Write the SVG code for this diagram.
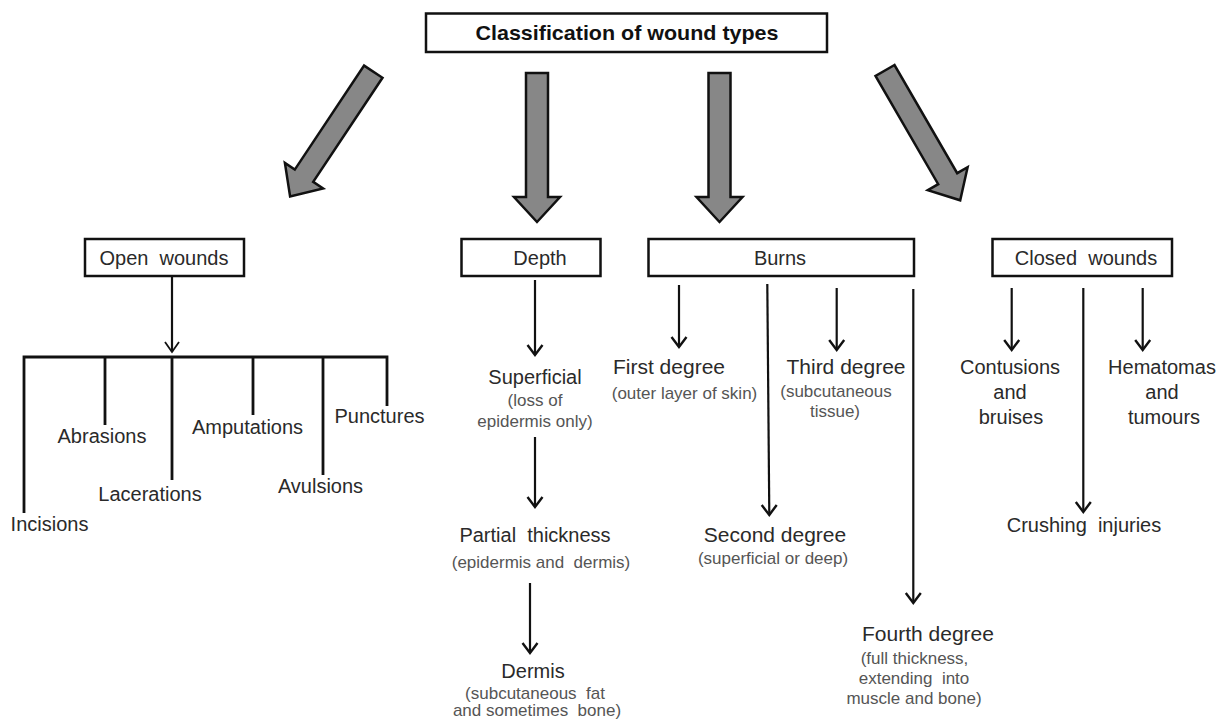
<svg xmlns="http://www.w3.org/2000/svg" width="1228" height="722" viewBox="0 0 1228 722">
<style>
.box{fill:#fff;stroke:#111;stroke-width:2.5}
.big{fill:#878787;stroke:#111;stroke-width:2.5;stroke-linejoin:miter}
.t{font-family:"Liberation Sans",Arial,sans-serif;font-size:20px;fill:#2a2a2a;text-anchor:middle;white-space:pre}
.tb{font-family:"Liberation Sans",Arial,sans-serif;font-size:21px;font-weight:bold;fill:#111;text-anchor:middle}
.l{font-size:21px}
.s{font-family:"Liberation Sans",Arial,sans-serif;font-size:17px;fill:#555;text-anchor:middle;white-space:pre}
.ln{fill:none;stroke:#111;stroke-width:2.2}
.tree{fill:none;stroke:#111;stroke-width:2.8}
</style>
<defs>
<marker id="v" markerUnits="userSpaceOnUse" viewBox="-12 -9 14 18" refX="0" refY="0" markerWidth="14" markerHeight="18" orient="auto">
<path d="M-10,-7.5 L0,0 L-10,7.5" fill="none" stroke="#111" stroke-width="2.4"/>
</marker>
<marker id="vt" markerUnits="userSpaceOnUse" viewBox="-12 -9 14 18" refX="0" refY="0" markerWidth="14" markerHeight="18" orient="auto">
<path d="M-10,-7 L0,0 L-10,7" fill="none" stroke="#111" stroke-width="1.8"/>
</marker>
</defs>
<rect width="1228" height="722" fill="#fff"/>

<g id="connectors">
<polygon class="big" points="364.1,65.6 382.5,77.8 313.2,181.8 323.1,188.5 290.1,196.5 284.9,162.9 294.8,169.6"/>
<polygon class="big" points="526,73 548,73 548,197 560,197 537,222 514,197 526,197"/>
<polygon class="big" points="708.5,73 730.5,73 730.5,197 742.5,197 719.5,222 696.5,197 708.5,197"/>
<polygon class="big" points="894.5,65 875.5,76 938.2,184.2 927.8,190.2 960.2,200.3 967.6,167.2 957.2,173.2"/>

<line class="ln" x1="172" y1="277" x2="172" y2="352" stroke-width="1.6" marker-end="url(#vt)"/>
<path class="tree" d="M24,513 V357 H387 V406 M105,357 V425 M172,357 V480 M253,357 V415 M323,357 V475"/>

<line class="ln" x1="535" y1="280" x2="535" y2="355" marker-end="url(#v)"/>
<line class="ln" x1="535" y1="437" x2="535" y2="507" marker-end="url(#v)"/>
<line class="ln" x1="530" y1="583" x2="530" y2="653" marker-end="url(#v)"/>

<line class="ln" x1="679" y1="285" x2="679" y2="347" marker-end="url(#v)"/>
<line class="ln" x1="767.3" y1="284" x2="769.3" y2="515" marker-end="url(#v)"/>
<line class="ln" x1="836.7" y1="288" x2="836.7" y2="350" marker-end="url(#v)"/>
<line class="ln" x1="913.3" y1="289" x2="913.3" y2="603" marker-end="url(#v)"/>

<line class="ln" x1="1011.7" y1="288" x2="1011.7" y2="350" marker-end="url(#v)"/>
<line class="ln" x1="1083.3" y1="288" x2="1083.3" y2="512" marker-end="url(#v)"/>
<line class="ln" x1="1142.7" y1="288" x2="1142.7" y2="350" marker-end="url(#v)"/>
</g>

<g id="title">
<rect class="box" x="426" y="13.5" width="401" height="38.5"/>
<text class="tb" x="627" y="40" textLength="303" lengthAdjust="spacingAndGlyphs">Classification of wound types</text>
</g>

<g id="open-wounds">
<rect class="box" x="85" y="239" width="159" height="37"/>
<text class="t" x="164" y="264.5">Open  wounds</text>
</g>
<g id="depth">
<rect class="box" x="461.5" y="239" width="139" height="37"/>
<text class="t" x="540" y="264.5">Depth</text>
</g>
<g id="burns">
<rect class="box" x="648.5" y="239" width="265.5" height="37"/>
<text class="t" x="780" y="264.5">Burns</text>
</g>
<g id="closed-wounds">
<rect class="box" x="992.5" y="239" width="179.5" height="37"/>
<text class="t" x="1086" y="264.5">Closed  wounds</text>
</g>

<g id="incisions"><text class="t" x="49.5" y="531">Incisions</text></g>
<g id="abrasions"><text class="t" x="102" y="443">Abrasions</text></g>
<g id="lacerations"><text class="t" x="150" y="501">Lacerations</text></g>
<g id="amputations"><text class="t" x="247.5" y="434">Amputations</text></g>
<g id="avulsions"><text class="t" x="320.5" y="493">Avulsions</text></g>
<g id="punctures"><text class="t" x="379.5" y="423">Punctures</text></g>

<g id="superficial">
<text class="t" x="535" y="384">Superficial</text>
<text class="s" x="535" y="406">(loss of</text>
<text class="s" x="535" y="427">epidermis only)</text>
</g>
<g id="partial-thickness">
<text class="t" x="535" y="542">Partial  thickness</text>
<text class="s" x="541" y="568">(epidermis and  dermis)</text>
</g>
<g id="dermis">
<text class="t" x="533" y="678">Dermis</text>
<text class="s" x="535" y="699">(subcutaneous  fat</text>
<text class="s" x="537" y="716">and sometimes  bone)</text>
</g>

<g id="first-degree">
<text class="t l" x="669" y="374">First degree</text>
<text class="s" x="684.5" y="399">(outer layer of skin)</text>
</g>
<g id="second-degree">
<text class="t l" x="775" y="542">Second degree</text>
<text class="s" x="773" y="564">(superficial or deep)</text>
</g>
<g id="third-degree">
<text class="t l" x="846" y="374">Third degree</text>
<text class="s" x="836" y="397">(subcutaneous</text>
<text class="s" x="835" y="417">tissue)</text>
</g>
<g id="fourth-degree">
<text class="t l" x="928" y="641">Fourth degree</text>
<text class="s" x="914.5" y="664">(full thickness,</text>
<text class="s" x="914" y="684">extending  into</text>
<text class="s" x="914" y="704">muscle and bone)</text>
</g>

<g id="contusions">
<text class="t" x="1010" y="374">Contusions</text>
<text class="t" x="1010" y="399">and</text>
<text class="t" x="1011" y="424">bruises</text>
</g>
<g id="crushing-injuries">
<text class="t" x="1084" y="532">Crushing  injuries</text>
</g>
<g id="hematomas">
<text class="t" x="1162" y="374">Hematomas</text>
<text class="t" x="1162" y="399">and</text>
<text class="t" x="1164" y="424">tumours</text>
</g>
</svg>
